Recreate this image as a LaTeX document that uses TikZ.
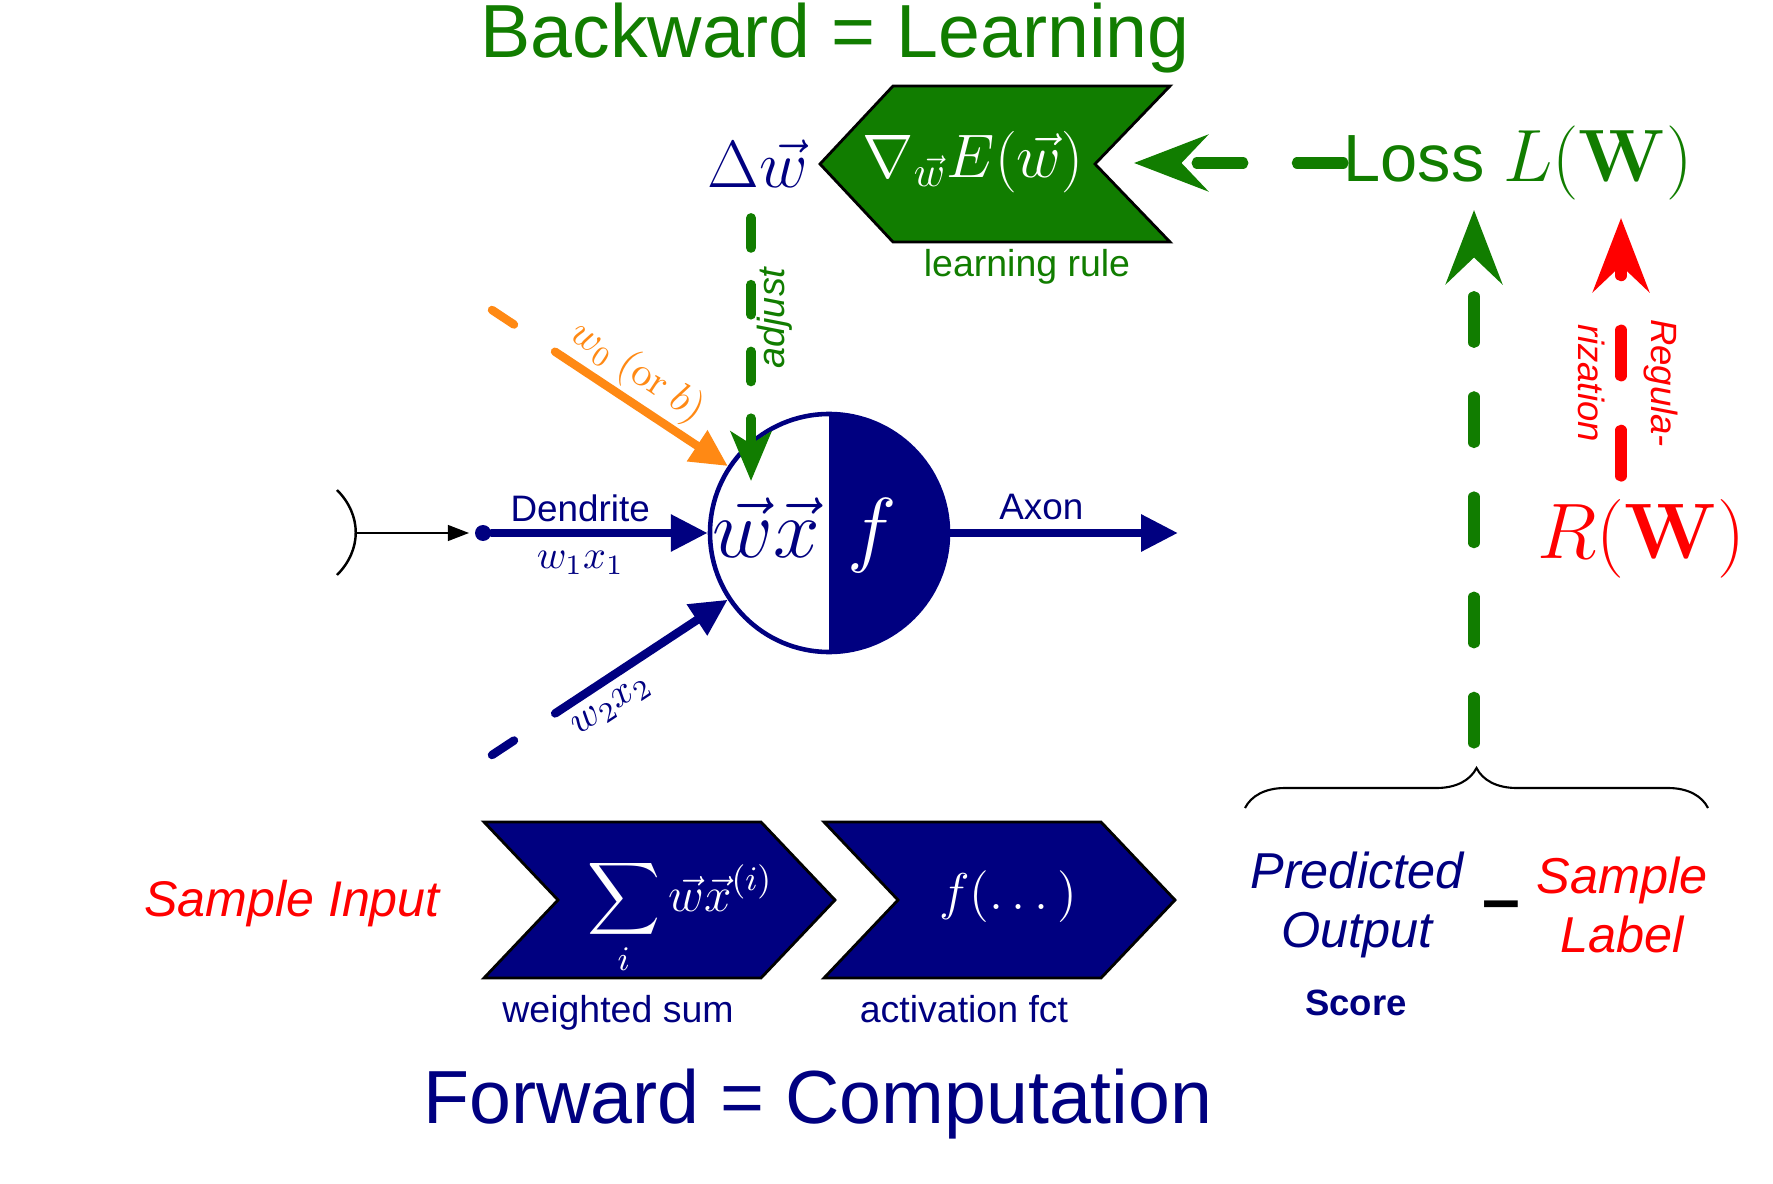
\RequirePackage{fix-cm}
\documentclass[tikz,border=0pt]{standalone}
\usepackage{amsmath}
\usepackage[no-math]{fontspec}
\setmainfont{Liberation Sans}[Scale=0.9]
\usepackage{xcolor}
\usepackage{tikz}
\usetikzlibrary{arrows.meta,decorations.pathreplacing}

\definecolor{darkblue}{RGB}{0,0,128}
\definecolor{learngreen}{RGB}{17,125,0}
\definecolor{biasorange}{RGB}{255,137,20}

\begin{document}
\begin{tikzpicture}[
    every node/.style={inner sep=0pt},
    smalltext/.style={font=\fontsize{11.85}{14}\selectfont},
    bigdash/.style={line width=3.2pt, line cap=round, dash pattern=on 13pt off 15.5pt},
    bighead/.style={-{Stealth[length=21pt,width=16pt,inset=7.5pt]}},
    inarrow/.style={line width=2.4pt, line cap=round, -{Triangle[length=10.5pt,width=10pt]}},
    chevron/.style={draw=black, line width=0.8pt}
]
    \useasboundingbox (0,0) rectangle (17.73,11.83);

    % Here are the two titles
    \node[learngreen, font=\fontsize{23.8}{28}\selectfont, anchor=base] (backtitle) at (8.35,11.25) {Backward = Learning};
    \node[darkblue, font=\fontsize{23.8}{28}\selectfont, anchor=base] (fwdtitle) at (8.18,0.60) {Forward = Computation};

    % Here is the learning rule (green chevron)
    \filldraw[chevron, fill=learngreen] (8.20,10.19) -- (8.93,10.97) -- (11.70,10.97) -- (10.95,10.19) -- (11.70,9.41) -- (8.93,9.41) -- cycle;
    \node[white, font=\fontsize{17.5}{20}\selectfont] (grad) at (9.73,10.21) {$\nabla_{\vec w}E(\vec w)$};
    \node[learngreen, smalltext, anchor=base] (rule) at (10.27,9.06) {learning rule};
    \node[darkblue, font=\fontsize{19}{22}\selectfont] (dw) at (7.58,10.19) {$\Delta\vec w$};

    % loss and regularization
    \node[learngreen, font=\fontsize{21.1}{25}\selectfont, anchor=west] (loss) at (13.43,10.20) {Loss $L(\mathbf{W})$};
    \node[red, font=\fontsize{22.4}{26}\selectfont] (reg) at (16.41,6.44) {$R(\mathbf{W})$};

    \coordinate (gradtip) at (11.34,10.20);
    \draw[learngreen, bigdash, bighead] (loss.west) -- (gradtip);

    \coordinate (predtop) at (14.74,4.40);
    \coordinate (losstip) at (14.74,9.73);
    \draw[learngreen, bigdash, bighead] (predtop) -- (losstip);

    \coordinate (regbot) at (16.21,7.07);
    \coordinate (regtip) at (16.21,9.65);
    \draw[red, bigdash, bighead] (regbot) -- (regtip);
    \node[red, rotate=-90, align=center, font=\itshape\fontsize{11.55}{21}\selectfont] (regtext) at (16.28,8.00) {Regula-\\rization};

    % Here I draw the neuron
    \node[circle, draw=darkblue, line width=1.3pt, minimum size=2.38cm] (neuron) at (8.29,6.50) {};
    \begin{scope}
        \clip (8.29,5.00) rectangle (9.80,8.00);
        \fill[darkblue] (neuron.center) circle[radius=1.19cm];
    \end{scope}
    \node[darkblue, font=\fontsize{23.8}{28}\selectfont] (wx) at (7.66,6.55) {$\vec w\vec x$};
    \node[white, font=\fontsize{23.8}{28}\selectfont] (fn) at (8.72,6.47) {$f$};

    % adjust arrow
    \coordinate (adjtop) at (7.51,9.65);
    \coordinate (adjtip) at (7.51,7.02);
    \draw[learngreen, line width=2.8pt, line cap=round, dash pattern=on 8.5pt off 10.5pt,
        -{Stealth[length=14pt,width=11.5pt,inset=3.5pt]}] (adjtop) -- (adjtip);
    \node[learngreen, rotate=90, font=\itshape\fontsize{11.95}{14}\selectfont] (adjust) at (7.75,8.65) {adjust};

    % synapse and dendrite
    \draw[line width=0.7pt] (3.37,6.93) .. controls (3.62,6.68) and (3.62,6.33) .. (3.37,6.08);
    \node[circle, fill=darkblue, minimum size=0.16cm] (dot) at (4.83,6.50) {};
    \coordinate (syn) at (3.56,6.50);
    \draw[line width=0.5pt, shorten >=1.5pt, -{Triangle[length=6pt,width=4.5pt]}] (syn) -- (dot);
    \draw[inarrow, darkblue] (dot) -- (neuron)
        node[pos=0.41, above=2pt, font=\fontsize{11.65}{14}\selectfont] (dendrite) {Dendrite}
        node[pos=0.41, below=4pt, font=\fontsize{11.4}{14}\selectfont] (w1x1) {$w_1x_1$};

    % other inputs
    \coordinate (biasstart) at (4.92,8.73);
    \draw[inarrow, biasorange, dash pattern=on 7.5pt off 14pt on 200pt] (biasstart) -- (neuron)
        node[sloped, pos=0.55, above=1pt, font=\fontsize{11.6}{14}\selectfont] (w0) {$w_0~(\mathrm{or}~b)$};
    \coordinate (x2start) at (4.92,4.28);
    \draw[inarrow, darkblue, dash pattern=on 7.5pt off 14pt on 200pt] (x2start) -- (neuron)
        node[sloped, pos=0.45, below=2.8pt, font=\fontsize{11.4}{14}\selectfont] (w2x2) {$w_2x_2$};

    % axon
    \coordinate (axonend) at (11.78,6.50);
    \draw[inarrow, darkblue] (neuron.east) -- (axonend)
        node[pos=0.40, above=2.6pt, font=\fontsize{11.65}{14}\selectfont] (axon) {Axon};

    % Here are the forward chevrons
    \node[red, font=\itshape\fontsize{15.85}{19}\selectfont] (input) at (2.92,2.79) {Sample Input};
    \filldraw[chevron, fill=darkblue] (4.84,3.61) -- (7.61,3.61) -- (8.35,2.83) -- (7.61,2.05) -- (4.84,2.05) -- (5.58,2.83) -- cycle;
    \filldraw[chevron, fill=darkblue] (8.24,3.61) -- (11.01,3.61) -- (11.75,2.83) -- (11.01,2.05) -- (8.24,2.05) -- (8.98,2.83) -- cycle;
    \node[white, font=\fontsize{14}{16}\selectfont] (wsum) at (6.80,2.66) {$\displaystyle\sum_i \vec w\vec x^{(i)}$};
    \node[white, font=\fontsize{14.7}{17}\selectfont] (fdots) at (10.08,2.86) {$f(\dots)$};
    \node[darkblue, smalltext, anchor=base] (wsumlabel) at (6.18,1.61) {weighted sum};
    \node[darkblue, smalltext, anchor=base] (actlabel) at (9.64,1.61) {activation fct};

    % score minus label
    \draw[decorate, decoration={brace, amplitude=0.40cm}, line width=0.6pt] (12.45,3.75) -- (17.08,3.75);
    \node[darkblue, align=center, font=\itshape\fontsize{15.95}{17}\selectfont] (pred) at (13.57,2.78) {Predicted\\Output};
    \node[font=\bfseries\fontsize{21.5}{25}\selectfont] (minus) at (15.01,2.71) {--};
    \node[red, align=center, font=\itshape\fontsize{15.95}{17}\selectfont] (label) at (16.22,2.78) {Sample\\Label};
    \node[darkblue, font=\bfseries\fontsize{11.55}{14}\selectfont] (score) at (13.56,1.80) {Score};
\end{tikzpicture}
\end{document}
